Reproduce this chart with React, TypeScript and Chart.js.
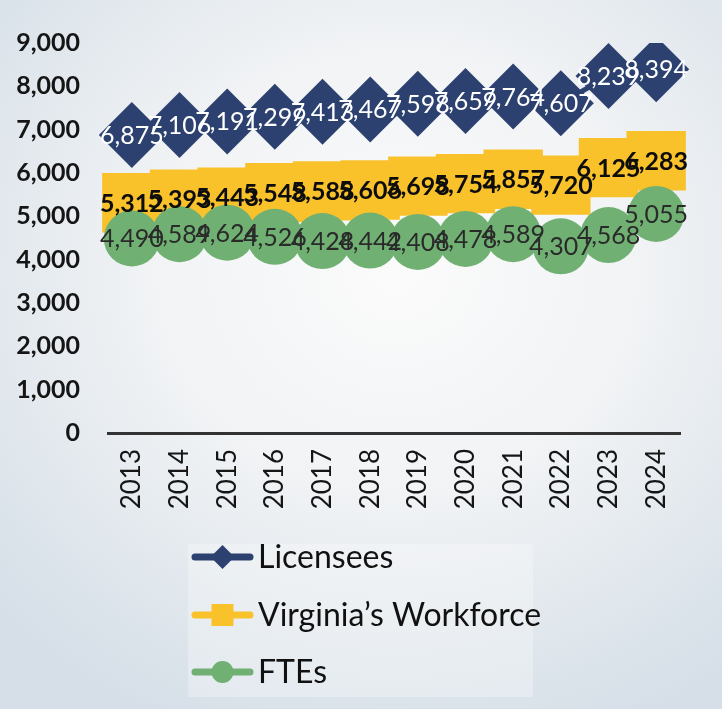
import React, { useEffect, useRef } from 'react';
import { Chart, registerables } from 'chart.js';

Chart.register(...registerables);

const years = ['2013', '2014', '2015', '2016', '2017', '2018', '2019', '2020', '2021', '2022', '2023', '2024'];
const licensees = [6875, 7106, 7191, 7299, 7413, 7467, 7598, 7659, 7764, 7607, 8239, 8394];
const workforce = [5312, 5393, 5443, 5548, 5588, 5606, 5698, 5754, 5857, 5720, 6125, 6283];
const ftes = [4490, 4589, 4624, 4526, 4428, 4442, 4408, 4478, 4589, 4307, 4568, 5055];
const seriesNames = ['Licensees', 'Virginia\u2019s Workforce', 'FTEs'];
const yMin = 0;
const yMax = 9000;
const yStep = 1000;

const NAVY = '#2c416f';
const GOLD = '#f9c22b';
const GREEN = '#70b072';
const FONT = 'Lato, "Open Sans", sans-serif';

const fmt = (v: number) => v.toLocaleString('en-US');

const labelStyles = [
  { color: '#ffffff', font: `400 25px ${FONT}` },
  { color: '#0d0d0d', font: `700 25px ${FONT}` },
  { color: '#2a2a2a', font: `400 25px ${FONT}` },
];

const valueLabelPlugin = {
  id: 'valueLabels',
  afterDatasetsDraw(chart: any) {
    const ctx = chart.ctx;
    chart.data.datasets.forEach((ds: any, i: number) => {
      const meta = chart.getDatasetMeta(i);
      const st = labelStyles[i];
      ctx.save();
      ctx.font = st.font;
      ctx.fillStyle = st.color;
      ctx.textAlign = 'center';
      ctx.textBaseline = 'middle';
      meta.data.forEach((pt: any, j: number) => {
        ctx.fillText(fmt(ds.data[j]), pt.x, pt.y + 1);
      });
      ctx.restore();
    });
  },
};

const legendPlugin = {
  id: 'customLegend',
  afterDraw(chart: any) {
    const ctx = chart.ctx;
    const boxLeft = 188;
    const boxTop = 544;
    const boxRight = 533;
    const boxBottom = 697;
    ctx.save();
    ctx.fillStyle = 'rgba(255,255,255,0.28)';
    ctx.fillRect(boxLeft, boxTop, boxRight - boxLeft, boxBottom - boxTop);
    const rows = [557, 615, 672];
    chart.data.datasets.forEach((ds: any, i: number) => {
      const y = rows[i];
      const x0 = 192;
      const x1 = 253;
      const cx = (x0 + x1) / 2;
      ctx.strokeStyle = ds.borderColor;
      ctx.lineWidth = 7;
      ctx.lineCap = 'round';
      ctx.beginPath();
      ctx.moveTo(x0 + 3, y);
      ctx.lineTo(x1 - 3, y);
      ctx.stroke();
      ctx.fillStyle = ds.backgroundColor;
      ctx.beginPath();
      if (ds.pointStyle === 'rectRot') {
        const r = 12;
        ctx.moveTo(cx, y - r);
        ctx.lineTo(cx + r, y);
        ctx.lineTo(cx, y + r);
        ctx.lineTo(cx - r, y);
        ctx.closePath();
      } else if (ds.pointStyle === 'rect') {
        const h = 11;
        ctx.rect(cx - h, y - h, 2 * h, 2 * h);
      } else {
        ctx.arc(cx, y, 11, 0, Math.PI * 2);
      }
      ctx.fill();
      ctx.fillStyle = '#111111';
      ctx.font = `400 32px ${FONT}`;
      ctx.textAlign = 'left';
      ctx.textBaseline = 'middle';
      ctx.fillText(ds.label, 258, y + 1);
    });
    ctx.restore();
  },
};

export default function App() {
  const ref = useRef<HTMLCanvasElement | null>(null);

  useEffect(() => {
    document.body.style.margin = '0';
    const canvas = ref.current;
    if (!canvas) return;
    const chart = new Chart(canvas, {
      type: 'line',
      data: {
        labels: years,
        datasets: [
          {
            label: seriesNames[0],
            data: licensees,
            borderColor: NAVY,
            backgroundColor: NAVY,
            pointBackgroundColor: NAVY,
            pointBorderColor: NAVY,
            pointStyle: 'rectRot',
            pointRadius: 33,
            pointBorderWidth: 0,
            borderWidth: 5,
            order: 3,
          },
          {
            label: seriesNames[1],
            data: workforce,
            borderColor: GOLD,
            backgroundColor: GOLD,
            pointBackgroundColor: GOLD,
            pointBorderColor: GOLD,
            pointStyle: 'rect',
            pointRadius: 42,
            pointBorderWidth: 0,
            borderWidth: 5,
            order: 2,
          },
          {
            label: seriesNames[2],
            data: ftes,
            borderColor: GREEN,
            backgroundColor: GREEN,
            pointBackgroundColor: GREEN,
            pointBorderColor: GREEN,
            pointStyle: 'circle',
            pointRadius: 28,
            pointBorderWidth: 0,
            borderWidth: 5,
            order: 1,
          },
        ],
      },
      options: {
        responsive: false,
        animation: false,
        events: [],
        layout: { padding: { top: 43, right: 32, left: 0, bottom: 0 } },
        plugins: {
          legend: { display: false },
          tooltip: { enabled: false },
          title: { display: false },
        },
        scales: {
          x: {
            type: 'category',
            offset: true,
            grid: { display: false, drawTicks: false },
            border: { display: true, color: '#333333', width: 3 },
            ticks: {
              autoSkip: false,
              minRotation: 90,
              maxRotation: 90,
              padding: 16,
              color: '#151515',
              font: { family: FONT, size: 26, weight: 'normal' },
            },
            afterFit: (s: any) => {
              s.height = 709 - 433;
            },
          },
          y: {
            min: yMin,
            max: yMax,
            grid: { display: false, drawTicks: false },
            border: { display: false },
            ticks: {
              stepSize: yStep,
              padding: 28,
              color: '#151515',
              font: { family: FONT, size: 25, weight: 'bold' },
              callback: (v: any) => fmt(Number(v)),
            },
            afterFit: (s: any) => {
              s.width = 108;
            },
          },
        },
      },
      plugins: [valueLabelPlugin, legendPlugin],
    } as any);
    return () => chart.destroy();
  }, []);

  return (
    <div
      style={{
        position: 'fixed',
        left: 0,
        top: 0,
        width: 722,
        height: 709,
        background:
          'radial-gradient(ellipse 75% 70% at 55% 38%, #fbfbfb 0%, #f1f3f5 45%, #dfe6ec 80%, #d6dfe8 100%)',
      }}
    >
      <canvas ref={ref} width={722} height={709} style={{ display: 'block' }} />
    </div>
  );
}
